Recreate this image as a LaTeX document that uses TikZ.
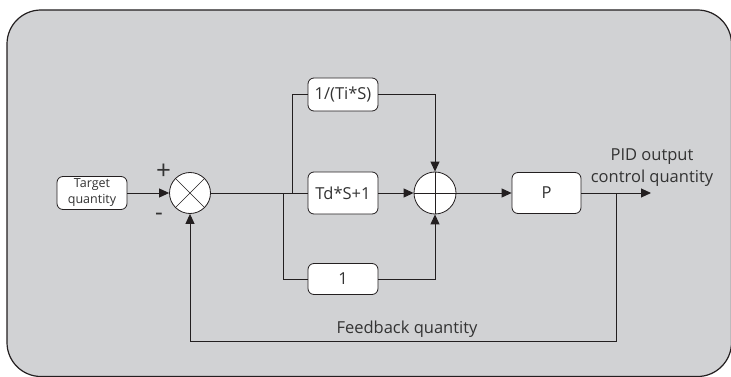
\documentclass[tikz,border=0pt]{standalone}
\usepackage{fontspec}
\setmainfont{Open Sans}
\usetikzlibrary{arrows.meta}
\definecolor{bg}{HTML}{D1D2D4}
\definecolor{ln}{HTML}{231F20}
\definecolor{tx}{HTML}{333333}
\tikzset{
  blk/.style={draw=ln, fill=white, rounded corners=6pt, line width=0.8pt, minimum width=70pt, text=tx, font=\fontsize{16.5}{18}\selectfont, inner sep=2pt},
  sumc/.style={circle, draw=ln, fill=white, line width=0.8pt, minimum size=41pt, inner sep=0pt},
  conn/.style={draw=ln, line width=0.9pt},
  arr/.style={conn, -{Triangle[length=10pt,width=9pt]}},
  lbl/.style={text=tx, font=\fontsize{16.5}{18}\selectfont, align=center, inner sep=0pt}
}
\begin{document}
\begin{tikzpicture}[x=1pt,y=-1pt]
\useasboundingbox (0,0) rectangle (731,377);
\draw[fill=bg, draw=ln, line width=1.2pt, rounded corners=34pt] (7,10) rectangle (731.5,376.5);
% blocks
\node[blk, minimum width=70pt, minimum height=33pt, font=\fontsize{12.5}{16}\selectfont, align=center, inner sep=1pt] (tgt) at (92,193) {Target\\quantity};
\node[sumc] (s1) at (190,193) {};
\draw[ln, line width=0.7pt] (s1.north east) -- (s1.south west) (s1.north west) -- (s1.south east);
\node[blk, minimum height=33pt] (ti) at (343,94.5) {1/(Ti*S)};
\node[blk, minimum height=42pt] (td) at (343,193) {Td*S+1};
\node[blk, minimum height=31pt] (one) at (343,279) {1};
\node[sumc, minimum size=42pt] (s2) at (435,193) {};
\draw[ln, line width=0.7pt] (s2.north) -- (s2.south) (s2.west) -- (s2.east);
\node[blk, minimum width=69pt, minimum height=41pt] (p) at (546.5,193) {P};
% coordinates
\coordinate (b1) at (292,193);
\coordinate (b2) at (283,193);
\coordinate (out) at (651,193);
\coordinate (fb) at (616,193);
\coordinate (fbr) at (616,341);
\coordinate (fbl) at (190,341);
% connectors
\draw[arr] (tgt.east) -- (s1.west);
\draw[conn] (s1.east) -- (td.west);
\draw[conn] (b1) |- (ti.west);
\draw[conn] (b2) |- (one.west);
\draw[arr] (td.east) -- (s2.west);
\draw[arr] (ti.east) -| (s2.north);
\draw[arr] (one.east) -| (s2.south);
\draw[arr] (s2.east) -- (p.west);
\draw[arr] (p.east) -- (out);
\draw[arr] (fb) -- (fbr) -- (fbl) -- (s1.south);
% labels
\node[lbl, font=\fontsize{26}{26}\selectfont] (plus) at (163.5,172) {+};
\node[lbl, font=\fontsize{24}{24}\selectfont] (minus) at (159,217) {-};
\node[lbl] (fbt) at (407,329) {Feedback quantity};
\node[lbl, font=\fontsize{16.5}{22}\selectfont] (outt) at (652,168) {PID output\\control quantity};
\end{tikzpicture}
\end{document}
